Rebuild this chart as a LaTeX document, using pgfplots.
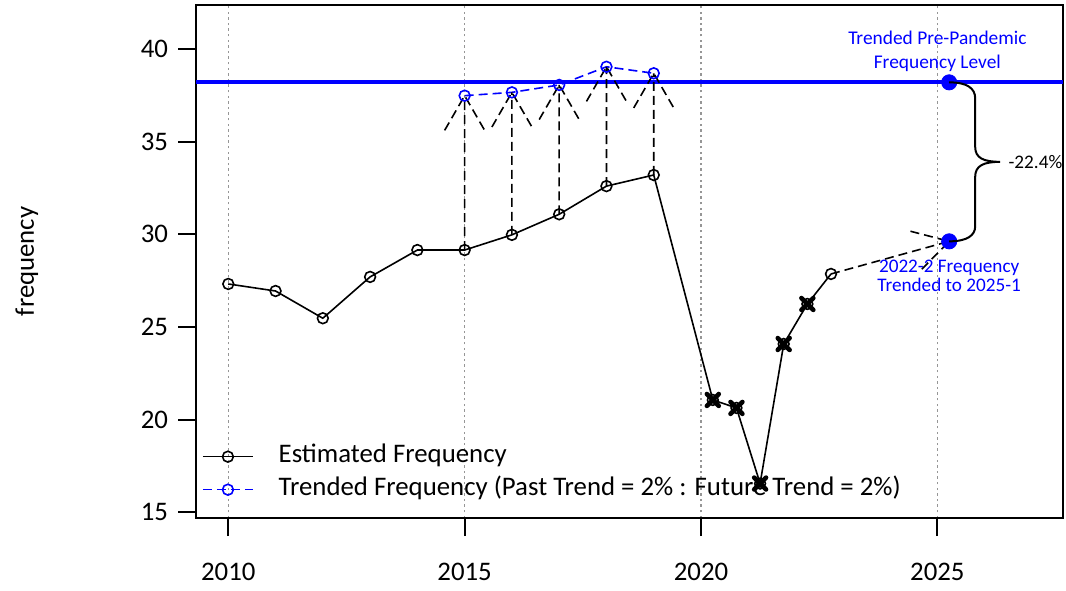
\documentclass[border=0pt]{standalone}
\usepackage{fontspec}
\setmainfont{Carlito}
\usepackage{pgfplots}
\pgfplotsset{compat=1.18}
\usepackage{pgfplotstable}

% estimated frequency (annual, then half-yearly)
\pgfplotstableread{
year freq
2010 27.32
2011 26.94
2012 25.47
2013 27.70
2014 29.15
2015 29.15
2016 29.97
2017 31.08
2018 32.60
2019 33.20
2020.25 21.06
2020.75 20.63
2021.25 16.55
2021.75 24.08
2022.25 26.24
2022.75 27.86
}\estimated

% pandemic-affected periods
\pgfplotstableread{
year freq
2020.25 21.06
2020.75 20.63
2021.25 16.55
2021.75 24.08
2022.25 26.24
}\covid

\pgfplotstableread{
year freq
2015 37.48
2016 37.66
2017 38.06
2018 39.04
2019 38.69
}\trended

\pgfplotstableread{
year freq
2025.25 38.20
2025.25 29.62
}\targets

\definecolor{gridgray}{RGB}{150,150,150}

\begin{document}
\begin{tikzpicture}
\begin{axis}[
    at={(0,0)}, anchor=south west,
    width=433.65pt, height=256.65pt, scale only axis,
    xmin=2009.317, xmax=2027.664,
    ymin=14.69, ymax=42.39,
    xtick={2010,2015,2020,2025},
    ytick={15,20,25,30,35,40},
    tick pos=left, tick align=outside,
    major tick length=9pt,
    axis line style={line width=1pt},
    every tick/.style={black, line width=1pt},
    xmajorgrids,
    major grid style={gridgray, line width=0.7pt, dash pattern=on 1.2pt off 1.6pt},
    /pgf/number format/assume math mode=true,
    /pgf/number format/1000 sep={},
    tick label style={font=\fontsize{13.4}{16}\selectfont},
    xticklabel style={yshift=-10pt},
    yticklabel style={xshift=-1.5pt},
    ylabel={frequency},
    every axis y label/.style={at={(axis description cs:-0.195,0.5)}, rotate=90, anchor=center,
        font=\fontsize{13.4}{16}\selectfont},
    unbounded coords=jump,
    legend style={draw=none, fill=none, at={(axis description cs:0.0066,0.031)}, anchor=south west,
        font=\fontsize{13.4}{16}\selectfont, inner sep=0pt, row sep=4.5pt,
        nodes={inner xsep=0pt, inner ysep=0pt, text height=9pt, text depth=3pt}},
    legend cell align=left,
    legend image code/.code={
        \draw[#1] (0pt,0pt) -- (25pt,0pt);
        \draw[#1, solid] plot coordinates {(12.5pt,0pt)};
        \path (37.5pt,0pt);
    },
]
% trended pre-pandemic level
\addplot[blue, line width=2pt, forget plot] coordinates {(2009.317,38.20) (2027.664,38.20)};

\addplot[black, line width=0.8pt, mark=o, mark size=2.7pt]
    table[x=year, y=freq] {\estimated};
\addlegendentry{Estimated Frequency}

\addplot[blue, line width=0.8pt, dash pattern=on 4.5pt off 2.5pt, mark=o, mark size=2.7pt,
    mark options={solid}]
    table[x=year, y=freq] {\trended};
\addlegendentry{Trended Frequency (Past Trend = 2\% : Future Trend = 2\%)}

% trending arrows
\addplot[black, line width=0.8pt, dash pattern=on 4.5pt off 2.5pt, forget plot] coordinates {
    (2015,29.15) (2015,37.48) (2015,nan)
    (2014.577,35.61) (2015,37.48) (2015.423,35.61) (2015,nan)
    (2016,29.97) (2016,37.66) (2016,nan)
    (2015.577,35.79) (2016,37.66) (2016.423,35.79) (2016,nan)
    (2017,31.08) (2017,38.06) (2017,nan)
    (2016.577,36.19) (2017,38.06) (2017.423,36.19) (2017,nan)
    (2018,32.60) (2018,39.04) (2018,nan)
    (2017.577,37.17) (2018,39.04) (2018.423,37.17) (2018,nan)
    (2019,33.20) (2019,38.69) (2019,nan)
    (2018.577,36.82) (2019,38.69) (2019.423,36.82) (2019,nan)
    (2022.75,27.86) (2025.25,29.62) (2025,nan)
    (2024.431,30.165) (2025.25,29.62) (2024.656,28.08)
};

\addplot[only marks, black, mark=x, mark size=4.2pt,
    mark options={solid, line width=2.3pt, line cap=round}, forget plot]
    table[x=year, y=freq] {\covid};

\addplot[only marks, blue, mark=*, mark size=3.8pt, forget plot]
    table[x=year, y=freq] {\targets};

\coordinate (S) at (axis cs:2025.25,38.20);
\coordinate (E) at (axis cs:2025.25,29.62);
\coordinate (M) at (axis cs:2025.25,33.91);

\node[blue, align=center, font=\fontsize{9.7}{12}\selectfont] at (axis cs:2025.0,39.89)
    {Trended Pre-Pandemic\\Frequency Level};
\node[blue, align=center, font=\fontsize{9.6}{9.5}\selectfont] at (axis cs:2025.25,27.78)
    {2022-2 Frequency\\Trended to 2025-1};
\end{axis}

% brace between the two levels
\draw[black, line width=1pt]
    (S) .. controls ([shift={(9pt,0pt)}]S) and ([shift={(13pt,-3pt)}]S) .. ([shift={(13pt,-8pt)}]S)
    -- ([shift={(13pt,7.5pt)}]M)
    .. controls ([shift={(13pt,2pt)}]M) and ([shift={(17pt,0pt)}]M) .. ([shift={(25.5pt,0pt)}]M)
    .. controls ([shift={(17pt,0pt)}]M) and ([shift={(13pt,-2pt)}]M) .. ([shift={(13pt,-7.5pt)}]M)
    -- ([shift={(13pt,7.5pt)}]E)
    .. controls ([shift={(13pt,3pt)}]E) and ([shift={(9pt,0pt)}]E) .. (E);
\node[anchor=west, inner sep=0pt, font=\fontsize{9.6}{11}\selectfont] at ([shift={(29.5pt,0pt)}]M) {-22.4\%};

\pgfresetboundingbox
\path (-98pt,-36pt) rectangle (435pt,259pt);
\end{tikzpicture}
\end{document}
